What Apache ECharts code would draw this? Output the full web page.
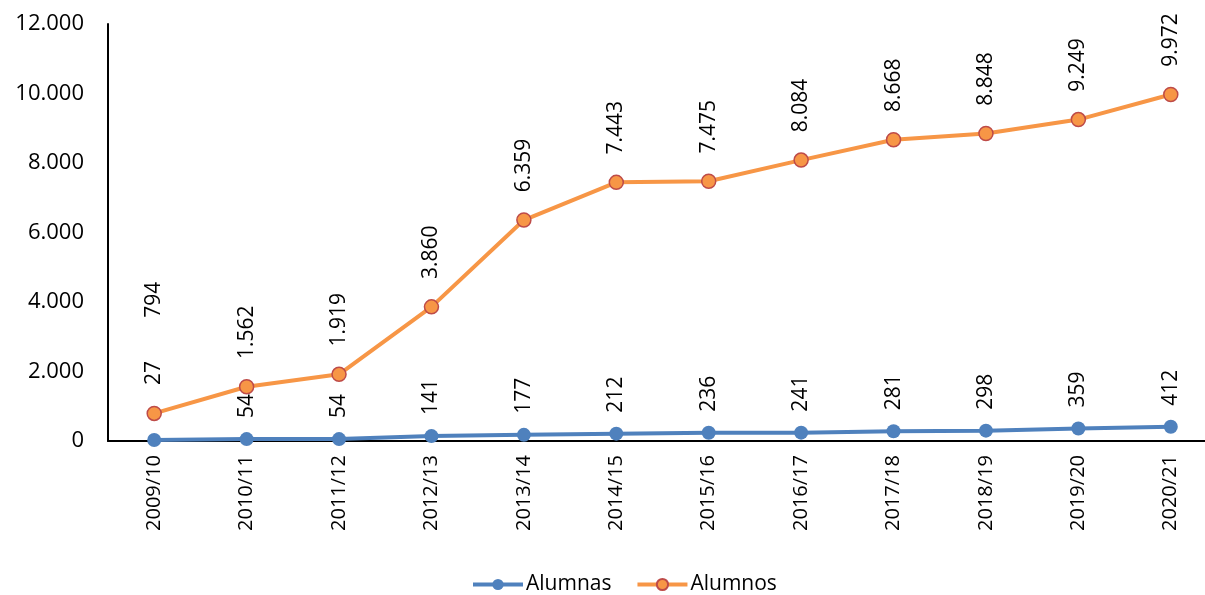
<!DOCTYPE html>
<html>
<head>
<meta charset="utf-8">
<script src="https://cdn.jsdelivr.net/npm/echarts@6/dist/echarts.min.js"></script>
<style>html,body{margin:0;padding:0;background:#fff;overflow:hidden}#c{width:1217px;height:595px}</style>
</head>
<body>
<div id="c"></div>
<script>
const categories = ['2009/10','2010/11','2011/12','2012/13','2013/14','2014/15','2015/16','2016/17','2017/18','2018/19','2019/20','2020/21'];
const alumnas = [27,54,54,141,177,212,236,241,281,298,359,412];
const alumnos = [794,1562,1919,3860,6359,7443,7475,8084,8668,8848,9249,9972];
const yTicks = [0,2000,4000,6000,8000,10000,12000];

const FONT = 'Open Sans';
const fmt = v => String(v).replace(/\B(?=(\d{3})+(?!\d))/g, '.');

function withLabelDistances(values, extra) {
  return values.map((v, i) => extra[i] ? { value: v, label: { distance: extra[i] } } : v);
}

const chart = echarts.init(document.getElementById('c'));
chart.setOption({
  animation: false,
  grid: { left: 108, top: 24, right: 0, height: 417, containLabel: false },
  legend: {
    top: 569, left: 466, itemWidth: 50, itemHeight: 14, itemGap: 24,
    textStyle: { fontFamily: FONT, fontSize: 21, color: '#000', padding: [0, 0, 0, -2] },
    data: [
      { name: 'Alumnas', lineStyle: { width: 4 } },
      { name: 'Alumnos', lineStyle: { width: 4 } }
    ]
  },
  xAxis: {
    type: 'category', data: categories, boundaryGap: true,
    axisLine: { lineStyle: { color: '#000', width: 2 } },
    axisTick: { show: false },
    axisLabel: { rotate: 90, margin: 14, color: '#000', fontFamily: FONT, fontSize: 20, interval: 0 }
  },
  yAxis: {
    type: 'value', min: 0, max: 12000, interval: 2000,
    splitLine: { show: false },
    axisLine: { show: true, lineStyle: { color: '#000', width: 2 } },
    axisTick: { show: false },
    axisLabel: { margin: 24, color: '#000', fontFamily: FONT, fontSize: 22,
      formatter: v => yTicks.includes(v) ? fmt(v) : '' }
  },
  series: [
    {
      name: 'Alumnas', type: 'line', data: withLabelDistances(alumnas, {0: 48}),
      symbol: 'circle', symbolSize: 14,
      lineStyle: { color: '#4F81BD', width: 4 },
      itemStyle: { color: '#4F81BD' },
      label: { show: true, position: 'top', rotate: 90, align: 'left', verticalAlign: 'middle',
        distance: 14, color: '#000', fontFamily: FONT, fontSize: 21, formatter: p => fmt(p.value) }
    },
    {
      name: 'Alumnos', type: 'line', data: withLabelDistances(alumnos, {0: 88}),
      symbol: 'circle', symbolSize: 14,
      lineStyle: { color: '#F79646', width: 4 },
      itemStyle: { color: '#F79646', borderColor: '#BE4B48', borderWidth: 1.5 },
      label: { show: true, position: 'top', rotate: 90, align: 'left', verticalAlign: 'middle',
        distance: 20, color: '#000', fontFamily: FONT, fontSize: 21, formatter: p => fmt(p.value) }
    }
  ]
});
</script>
</body>
</html>
